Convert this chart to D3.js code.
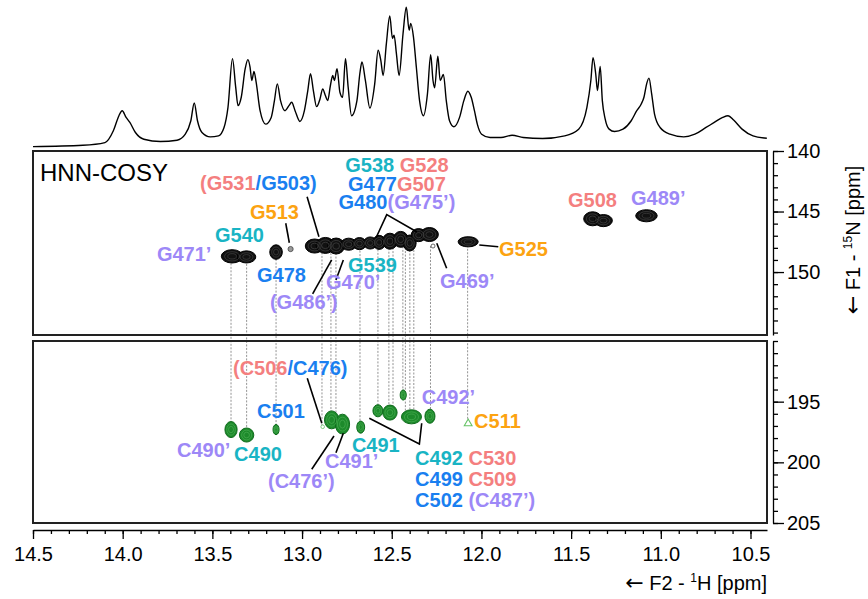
<!DOCTYPE html>
<html>
<head>
<meta charset="utf-8">
<script src="https://cdn.jsdelivr.net/npm/d3@7"></script>
<style>
  body { margin: 0; background: #fff; }
  svg { display: block; font-family: "Liberation Sans", Arial, sans-serif; }
  .lbl { font-weight: bold; font-size: 20px; }
  .arrow { font-family: "DejaVu Sans", sans-serif; font-size: 22px; }
</style>
</head>
<body>
<svg id="chart" width="868" height="599"></svg>
<script>
// 1D 1H trace on top: [ppm, intensity (arb.)]
const spectrum1D = [
  [14.500, 0], [14.222, 4], [14.099, 12], [14.052, 47], [14.021, 92], [14.003, 107],
  [13.981, 87], [13.960, 72], [13.929, 42], [13.882, 22], [13.790, 15], [13.697, 19],
  [13.651, 37], [13.620, 77], [13.601, 130], [13.583, 77], [13.558, 42], [13.512, 29],
  [13.466, 32], [13.435, 57], [13.413, 117], [13.388, 262], [13.370, 177], [13.357, 122],
  [13.339, 147], [13.317, 232], [13.302, 259], [13.290, 237], [13.280, 197], [13.268, 224],
  [13.256, 192], [13.234, 107], [13.203, 67], [13.172, 87], [13.154, 137], [13.138, 187],
  [13.120, 137], [13.095, 107], [13.073, 122], [13.058, 132], [13.039, 107], [13.012, 75],
  [12.987, 107], [12.968, 167], [12.953, 217], [12.937, 167], [12.919, 119], [12.900, 142],
  [12.885, 172], [12.870, 152], [12.857, 137], [12.842, 182], [12.829, 212], [12.820, 197],
  [12.805, 232], [12.789, 162], [12.774, 147], [12.758, 262], [12.743, 177], [12.724, 92],
  [12.694, 137], [12.678, 217], [12.666, 252], [12.647, 197], [12.622, 115], [12.595, 187],
  [12.576, 287], [12.561, 257], [12.548, 212], [12.530, 307], [12.511, 389], [12.496, 322],
  [12.487, 332], [12.474, 277], [12.459, 212], [12.437, 337], [12.419, 415], [12.403, 347],
  [12.394, 367], [12.379, 327], [12.363, 237], [12.345, 137], [12.323, 92], [12.301, 157],
  [12.283, 274], [12.270, 197], [12.261, 175], [12.243, 269], [12.230, 197], [12.212, 215],
  [12.196, 137], [12.178, 77], [12.153, 59], [12.122, 87], [12.098, 137], [12.076, 165],
  [12.057, 147], [12.039, 107], [12.023, 67], [11.999, 37], [11.952, 27], [11.891, 27],
  [11.829, 34], [11.767, 27], [11.659, 24], [11.536, 32], [11.458, 52], [11.412, 117],
  [11.390, 197], [11.378, 265], [11.363, 217], [11.353, 167], [11.338, 239], [11.326, 137],
  [11.310, 82], [11.288, 52], [11.258, 45], [11.211, 52], [11.165, 77], [11.134, 107],
  [11.109, 127], [11.094, 147], [11.079, 187], [11.066, 204], [11.051, 157], [11.035, 97],
  [11.004, 57], [10.949, 37], [10.872, 29], [10.810, 37], [10.748, 57], [10.702, 72],
  [10.655, 87], [10.625, 92], [10.594, 79], [10.547, 52], [10.486, 32], [10.409, 25]
];

// 2D cross peaks: [1H ppm, 15N ppm, 1H half width, 15N half width]
const upperPeaks = [
  [13.39, 148.7, 0.06, 0.55], [13.31, 148.75, 0.052, 0.5], [13.145, 148.35, 0.035, 0.6],
  [12.93, 147.85, 0.052, 0.58], [12.87, 147.8, 0.052, 0.66], [12.81, 147.85, 0.047, 0.66],
  [12.74, 147.7, 0.044, 0.5], [12.68, 147.65, 0.038, 0.5], [12.62, 147.6, 0.038, 0.5],
  [12.57, 147.55, 0.036, 0.58], [12.51, 147.45, 0.042, 0.66], [12.45, 147.3, 0.042, 0.66],
  [12.40, 147.6, 0.036, 0.66], [12.35, 146.95, 0.042, 0.54], [12.29, 146.9, 0.05, 0.58],
  [12.074, 147.5, 0.056, 0.42], [11.38, 145.6, 0.05, 0.58], [11.32, 145.75, 0.05, 0.5],
  [11.08, 145.35, 0.06, 0.5]
];
const upperWeak = [[13.064, 148.1], [12.27, 147.85]];

const lowerPeaks = [
  [13.396, 197.3, 0.034, 0.66], [13.309, 197.75, 0.04, 0.58], [13.145, 197.3, 0.017, 0.42],
  [12.835, 196.5, 0.04, 0.74], [12.775, 196.85, 0.04, 0.82], [12.673, 197.1, 0.022, 0.5],
  [12.577, 195.75, 0.028, 0.5], [12.51, 195.9, 0.04, 0.62], [12.436, 194.45, 0.017, 0.42],
  [12.39, 196.25, 0.056, 0.58], [12.287, 196.2, 0.028, 0.58]
];
const lowerWeak = [[12.885, 197.07]];
const lowerNegative = [[12.074, 196.8]];

// vertical links: [1H ppm, 15N upper, 15N lower]
const crossLinks = [
  [13.396, 148.7, 197.3], [13.309, 148.75, 197.75], [13.145, 148.35, 197.3],
  [12.889, 147.8, 197.07], [12.839, 147.85, 196.5], [12.811, 147.85, 196.6],
  [12.677, 147.65, 197.1], [12.577, 147.55, 195.75], [12.516, 147.45, 195.9],
  [12.493, 147.4, 195.9], [12.438, 147.3, 194.45], [12.424, 147.4, 196.1],
  [12.399, 147.6, 196.2], [12.377, 147.6, 196.2], [12.284, 147.85, 196.2],
  [12.077, 147.5, 196.8]
];

const xMajor = [14.5, 14.0, 13.5, 13.0, 12.5, 12.0, 11.5, 11.0, 10.5];
const yUpMajor = [140, 145, 150];
const yLoMajor = [195, 200, 205];

// assignments: parts, 1H, 15N, anchor
const upperLabels = [
  [[["(G531", "pink"], ["/G503)", "blue"]], 13.569, 143.22, "start"],
  [[["G513", "orange"]], 13.290, 145.62, "start"],
  [[["G540", "cyan"]], 13.485, 147.49, "start"],
  [[["G471’", "purple"]], 13.809, 149.09, "start"],
  [[["G478", "blue"]], 13.251, 150.80, "start"],
  [[["G539", "cyan"]], 12.744, 149.97, "start"],
  [[["G470’", "purple"]], 12.867, 151.40, "start"],
  [[["(G486’)", "purple"]], 13.179, 153.05, "start"],
  [[["G538\u00a0", "cyan"], ["G528", "pink"]], 12.471, 141.73, "middle"],
  [[["G477", "blue"], ["G507", "pink"]], 12.471, 143.28, "middle"],
  [[["G480", "blue"], ["(G475’)", "purple"]], 12.471, 144.79, "middle"],
  [[["G508", "pink"]], 11.517, 144.60, "start"],
  [[["G489’", "purple"]], 11.166, 144.46, "start"],
  [[["G525", "orange"]], 11.902, 148.67, "start"],
  [[["G469’", "purple"]], 12.231, 151.29, "start"]
];
const lowerLabels = [
  [[["(C506", "pink"], ["/C476)", "blue"]], 13.385, 192.80, "start"],
  [[["C501", "blue"]], 13.251, 196.37, "start"],
  [[["C490’", "purple"]], 13.697, 199.54, "start"],
  [[["C490", "cyan"]], 13.379, 199.89, "start"],
  [[["C491’", "purple"]], 12.872, 200.47, "start"],
  [[["(C476’)", "purple"]], 13.190, 202.12, "start"],
  [[["C491", "cyan"]], 12.722, 199.12, "start"],
  [[["C492\u00a0", "cyan"], ["C530", "pink"]], 12.370, 200.22, "start"],
  [[["C499\u00a0", "blue"], ["C509", "pink"]], 12.370, 201.95, "start"],
  [[["C502\u00a0", "blue"], ["(C487’)", "purple"]], 12.370, 203.66, "start"],
  [[["C492’", "purple"]], 12.333, 195.19, "start"],
  [[["C511", "orange"]], 12.041, 197.20, "start"]
];

const upperLeaders = [
  [[12.972, 143.78], [12.906, 147.08]],
  [[13.091, 145.97], [13.071, 147.58]],
  [[12.588, 147.19], [12.528, 145.25], [12.359, 146.69]],
  [[12.941, 151.81], [12.835, 149.00]],
  [[12.811, 150.66], [12.770, 149.00]],
  [[12.012, 147.77], [11.906, 147.91]],
  [[12.194, 149.69], [12.249, 147.62]]
];
const lowerLeaders = [
  [[12.971, 193.07], [12.890, 196.78]],
  [[12.946, 200.57], [12.822, 197.83]],
  [[12.811, 199.21], [12.770, 197.61]],
  [[12.625, 196.37], [12.346, 198.49], [12.333, 196.78]]
];

const palette = {
  pink: "#f47f7f", blue: "#1a7ff0", cyan: "#19b4c4",
  purple: "#9d88f7", orange: "#fca311"
};

const svg = d3.select("#chart");
const fontFam = "'Liberation Sans', Arial, sans-serif";

const x = d3.scaleLinear().domain([14.5, 10.408]).range([33, 767]);
const yTrace = d3.scaleLinear().domain([0, 415]).range([146.6, 7.3]);
const yUp = d3.scaleLinear().domain([140, 155.2]).range([151, 335]);
const yLo = d3.scaleLinear().domain([190, 205]).range([341, 523]);

// 1D trace
svg.append("path")
  .datum(spectrum1D)
  .attr("fill", "none")
  .attr("stroke", "#000")
  .attr("stroke-width", 1.4)
  .attr("d", d3.line().x(d => x(d[0])).y(d => yTrace(d[1])).curve(d3.curveMonotoneX));

// dashed links between the panels
svg.append("g").selectAll("line")
  .data(crossLinks)
  .join("line")
  .attr("x1", d => x(d[0])).attr("x2", d => x(d[0]))
  .attr("y1", d => yUp(d[1])).attr("y2", d => yLo(d[2]))
  .attr("stroke", "#777")
  .attr("stroke-width", 0.8)
  .attr("stroke-dasharray", "2,1.5");

// panel frames
[[yUp, 140, 155.2], [yLo, 190, 205]].forEach(([ys, a, b]) => {
  svg.append("rect")
    .attr("x", x(14.5)).attr("y", ys(a))
    .attr("width", x(10.408) - x(14.5))
    .attr("height", ys(b) - ys(a))
    .attr("fill", "none")
    .attr("stroke", "#222")
    .attr("stroke-width", 2);
});

function drawBlobs(peaks, ys, fill, edge, ring) {
  const g = svg.append("g");
  const rx = d => Math.abs(x(d[0] + d[2]) - x(d[0]));
  const ry = d => Math.abs(ys(d[1] + d[3]) - ys(d[1]));
  g.selectAll(".fill").data(peaks).join("ellipse")
    .attr("class", "fill")
    .attr("cx", d => x(d[0])).attr("cy", d => ys(d[1]))
    .attr("rx", rx).attr("ry", ry)
    .attr("fill", fill).attr("stroke", edge).attr("stroke-width", 1);
  [0.7, 0.4].forEach((k, i) => {
    g.selectAll(".ring" + i).data(peaks).join("ellipse")
      .attr("class", "ring" + i)
      .attr("cx", d => x(d[0])).attr("cy", d => ys(d[1]))
      .attr("rx", d => rx(d) * k).attr("ry", d => ry(d) * k)
      .attr("fill", "none").attr("stroke", ring).attr("stroke-width", 0.6);
  });
}

drawBlobs(upperPeaks, yUp, "#111", "#000", "#4a4a4a");
drawBlobs(lowerPeaks, yLo, "#1d8a2b", "#0f6b1c", "#4fb257");

svg.append("g").selectAll("circle").data(upperWeak).join("circle")
  .attr("cx", d => x(d[0])).attr("cy", d => yUp(d[1]))
  .attr("r", (d, i) => i === 0 ? 2.6 : 2)
  .attr("fill", (d, i) => i === 0 ? "#999" : "#fff")
  .attr("stroke", "#444").attr("stroke-width", 0.8);

svg.append("g").selectAll("circle").data(lowerWeak).join("circle")
  .attr("cx", d => x(d[0])).attr("cy", d => yLo(d[1]))
  .attr("r", 1.8).attr("fill", "#fff")
  .attr("stroke", "#66c266").attr("stroke-width", 0.8);

svg.append("g").selectAll("path").data(lowerNegative).join("path")
  .attr("transform", d => `translate(${x(d[0])},${yLo(d[1])})`)
  .attr("d", d3.symbol(d3.symbolTriangle, 26))
  .attr("fill", "#fff").attr("stroke", "#66c266").attr("stroke-width", 1.1);

// leader lines
const leader = ys => d3.line().x(d => x(d[0])).y(d => ys(d[1]));
svg.append("g").selectAll("path").data(upperLeaders).join("path")
  .attr("d", leader(yUp)).attr("fill", "none").attr("stroke", "#000").attr("stroke-width", 1.6);
svg.append("g").selectAll("path").data(lowerLeaders).join("path")
  .attr("d", leader(yLo)).attr("fill", "none").attr("stroke", "#000").attr("stroke-width", 1.6);

// labels
function drawLabels(list, ys) {
  list.forEach(([parts, h, n, anchor]) => {
    const t = svg.append("text")
      .attr("class", "lbl")
      .attr("x", x(h)).attr("y", ys(n))
      .attr("text-anchor", anchor);
    parts.forEach(([txt, c]) => t.append("tspan").text(txt).attr("fill", palette[c]));
  });
}
drawLabels(upperLabels, yUp);
drawLabels(lowerLabels, yLo);

svg.append("text")
  .attr("x", 40).attr("y", 181)
  .attr("font-size", 24)
  .text("HNN-COSY");

// axes
function styleAxis(g) {
  g.attr("font-family", fontFam).attr("font-size", 20);
  g.selectAll("path, line").attr("stroke", "#000").attr("stroke-width", 1.3);
}

const xAxisY = 530;
svg.append("g")
  .attr("transform", `translate(0,${xAxisY})`)
  .call(d3.axisBottom(x).tickValues(d3.range(105, 146).map(v => v / 10)).tickSize(4).tickSizeOuter(0).tickFormat(""))
  .call(styleAxis);
svg.append("g")
  .attr("transform", `translate(0,${xAxisY})`)
  .call(d3.axisBottom(x).tickValues(xMajor).tickSize(9).tickSizeOuter(0).tickPadding(8).tickFormat(d3.format(".1f")))
  .call(styleAxis)
  .call(g => g.select(".domain").remove());

const yAxisX = 773;
[[yUp, d3.range(140, 156), yUpMajor], [yLo, d3.range(190, 206), yLoMajor]].forEach(([ys, minor, major]) => {
  svg.append("g")
    .attr("transform", `translate(${yAxisX},0)`)
    .call(d3.axisRight(ys).tickValues(minor).tickSize(5).tickSizeOuter(0).tickFormat(""))
    .call(styleAxis);
  svg.append("g")
    .attr("transform", `translate(${yAxisX},0)`)
    .call(d3.axisRight(ys).tickValues(major).tickSize(11).tickSizeOuter(0).tickPadding(3).tickFormat(d3.format("d")))
    .call(styleAxis)
    .call(g => g.select(".domain").remove());
});

// axis titles
const xt = svg.append("text")
  .attr("x", 767).attr("y", 590)
  .attr("text-anchor", "end")
  .attr("font-size", 20);
xt.append("tspan").attr("class", "arrow").text("←");
xt.append("tspan").text(" F2 - ");
xt.append("tspan").text("1").attr("font-size", 12).attr("dy", -8);
xt.append("tspan").text("H [ppm]").attr("dy", 8);

const yt = svg.append("text")
  .attr("transform", "translate(860,240) rotate(-90)")
  .attr("text-anchor", "middle")
  .attr("font-size", 20);
yt.append("tspan").attr("class", "arrow").text("←");
yt.append("tspan").text(" F1 - ");
yt.append("tspan").text("15").attr("font-size", 12).attr("dy", -8);
yt.append("tspan").text("N [ppm]").attr("dy", 8);
</script>
</body>
</html>
